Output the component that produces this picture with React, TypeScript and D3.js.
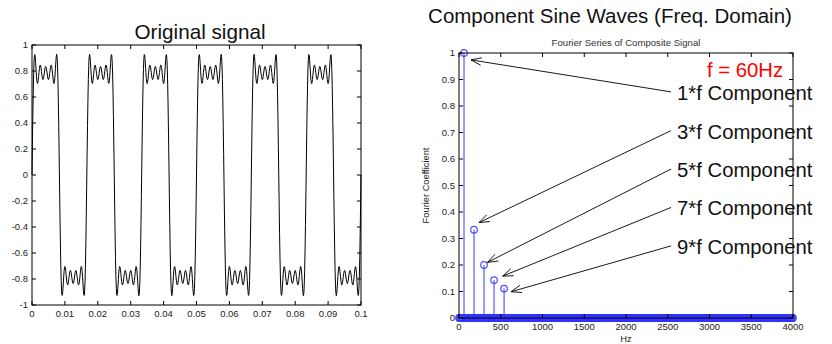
import React, { useRef, useEffect } from 'react';
import * as d3 from 'd3';

// composite signal parameters (square wave built from odd harmonics)
const baseFreq = 60;
const sampleRate = 8000;
const duration = 0.1;
const harmonics = [1, 3, 5, 7, 9];
const coefficients = [1, 0.333, 0.2, 0.143, 0.111];

// tick labels
const signalXTicks = [0, 0.01, 0.02, 0.03, 0.04, 0.05, 0.06, 0.07, 0.08, 0.09, 0.1];
const signalYTicks = [-1, -0.8, -0.6, -0.4, -0.2, 0, 0.2, 0.4, 0.6, 0.8, 1];
const freqXTicks = [0, 500, 1000, 1500, 2000, 2500, 3000, 3500, 4000];
const freqYTicks = [0, 0.1, 0.2, 0.3, 0.4, 0.5, 0.6, 0.7, 0.8, 0.9, 1];

// annotations (text anchor + arrow target in data units)
const annoLabels = ['1*f Component', '3*f Component', '5*f Component', '7*f Component', '9*f Component'];
const annoTextY = [0.823, 0.677, 0.532, 0.387, 0.242];
const annoTargetHz = [144, 240, 341, 523, 623];
const annoTargetY = [0.974, 0.36, 0.21, 0.158, 0.099];

const FONT = '"Liberation Sans", Arial, Helvetica, sans-serif';

function App() {
  const svgRef = useRef<SVGSVGElement>(null);

  useEffect(() => {
    const width = 832;
    const height = 344;
    const svg = d3.select(svgRef.current);
    svg.selectAll('*').remove();
    svg.attr('width', width).attr('height', height)
      .attr('viewBox', [0, 0, width, height])
      .style('font-family', FONT);

    svg.append('rect').attr('width', width).attr('height', height).attr('fill', '#fff');

    // ---------- time domain ----------
    const n = Math.round(duration * sampleRate);
    const signal = d3.range(n + 1).map(i => {
      const t = i / sampleRate;
      const v = d3.sum(harmonics, (h, k) => coefficients[k] * Math.sin(2 * Math.PI * h * baseFreq * t));
      return { t, v };
    });

    const x1 = d3.scaleLinear().domain([0, 0.1]).range([32, 361]);
    const y1 = d3.scaleLinear().domain([-1, 1]).range([305, 45]);
    const tick = 4;

    const left = svg.append('g');
    left.append('path')
      .attr('fill', 'none')
      .attr('stroke', '#000')
      .attr('stroke-width', 1)
      .attr('d', d3.line<any>().x(d => x1(d.t)).y(d => y1(d.v))(signal));

    const drawFrame = (g, x, y) => {
      const [xa, xb] = x.range();
      const [yb, ya] = y.range();
      g.append('rect').attr('x', xa).attr('y', ya).attr('width', xb - xa).attr('height', yb - ya)
        .attr('fill', 'none').attr('stroke', '#000').attr('stroke-width', 1);
    };
    const drawTicks = (g, x, y, xt, yt, xfmt, yfmt, xLabelY) => {
      const [xa, xb] = x.range();
      const [yb, ya] = y.range();
      xt.forEach(v => {
        g.append('line').attr('x1', x(v)).attr('x2', x(v)).attr('y1', yb).attr('y2', yb - tick).attr('stroke', '#000');
        g.append('line').attr('x1', x(v)).attr('x2', x(v)).attr('y1', ya).attr('y2', ya + tick).attr('stroke', '#000');
        g.append('text').attr('x', x(v)).attr('y', xLabelY).attr('text-anchor', 'middle')
          .attr('font-size', 9.5).attr('fill', '#222').text(xfmt(v));
      });
      yt.forEach(v => {
        g.append('line').attr('x1', xa).attr('x2', xa + tick).attr('y1', y(v)).attr('y2', y(v)).attr('stroke', '#000');
        g.append('line').attr('x1', xb).attr('x2', xb - tick).attr('y1', y(v)).attr('y2', y(v)).attr('stroke', '#000');
        g.append('text').attr('x', xa - 4).attr('y', y(v) + 3.3).attr('text-anchor', 'end')
          .attr('font-size', 9.5).attr('fill', '#222').text(yfmt(v));
      });
    };
    const fmt = v => String(+v.toFixed(2));
    drawFrame(left, x1, y1);
    drawTicks(left, x1, y1, signalXTicks, signalYTicks, fmt, fmt, 317);

    left.append('text').attr('x', 200).attr('y', 39).attr('text-anchor', 'middle')
      .attr('font-size', 20.7).attr('fill', '#111').text('Original signal');

    // ---------- frequency domain ----------
    const x2 = d3.scaleLinear().domain([0, 4000]).range([459, 793]);
    const y2 = d3.scaleLinear().domain([0, 1]).range([318, 53]);
    const right = svg.append('g');

    const binHz = sampleRate / n;
    const bins = d3.range(0, sampleRate / 2 + binHz / 2, binHz).map(f => {
      const k = harmonics.findIndex(h => Math.abs(h * baseFreq - f) < binHz / 2);
      return { f, c: k >= 0 ? coefficients[k] : 0 };
    });
    const blue = '#3333ff';
    right.selectAll('line.stem').data(bins.filter(d => d.c > 0)).join('line')
      .attr('class', 'stem')
      .attr('x1', d => x2(d.f)).attr('x2', d => x2(d.f))
      .attr('y1', y2(0)).attr('y2', d => y2(d.c))
      .attr('stroke', blue).attr('stroke-opacity', 0.75).attr('stroke-width', 1.3);
    right.selectAll('circle.mk').data(bins).join('circle')
      .attr('class', 'mk')
      .attr('cx', d => x2(d.f)).attr('cy', d => y2(d.c)).attr('r', 3.3)
      .attr('fill', 'none').attr('stroke', blue).attr('stroke-opacity', 0.85).attr('stroke-width', 1.2);

    drawFrame(right, x2, y2);
    drawTicks(right, x2, y2, freqXTicks, freqYTicks, v => String(v), fmt, 330);

    right.append('text').attr('x', 626).attr('y', 342).attr('text-anchor', 'middle')
      .attr('font-size', 9.3).attr('fill', '#222').text('Hz');
    right.append('text').attr('transform', `translate(429,${(53 + 318) / 2}) rotate(-90)`)
      .attr('text-anchor', 'middle').attr('font-size', 9.3).attr('fill', '#222').text('Fourier Coefficient');
    right.append('text').attr('x', 626).attr('y', 45.5).attr('text-anchor', 'middle')
      .attr('font-size', 9.6).attr('fill', '#333').text('Fourier Series of Composite Signal');
    right.append('text').attr('x', 610).attr('y', 23).attr('text-anchor', 'middle')
      .attr('font-size', 20.5).attr('fill', '#111').text('Component Sine Waves (Freq. Domain)');

    right.append('text').attr('x', x2(2970)).attr('y', y2(0.909))
      .attr('font-size', 20.3).attr('fill', '#ff0000').text('f = 60Hz');

    annoLabels.forEach((label, i) => {
      const tx = x2(2540);
      const ty = y2(annoTextY[i]);
      right.append('text').attr('x', tx + 6).attr('y', ty).attr('font-size', 20.3)
        .attr('fill', '#111').text(label);
      const sx = tx, sy = ty - 8;
      const ex = x2(annoTargetHz[i]), ey = y2(annoTargetY[i]);
      const ang = Math.atan2(sy - ey, sx - ex);
      const len = 11, spread = 0.35;
      right.append('line').attr('x1', sx).attr('y1', sy).attr('x2', ex).attr('y2', ey)
        .attr('stroke', '#000').attr('stroke-width', 0.9);
      right.append('path')
        .attr('d', `M${ex + len * Math.cos(ang + spread)},${ey + len * Math.sin(ang + spread)}L${ex},${ey}L${ex + len * Math.cos(ang - spread)},${ey + len * Math.sin(ang - spread)}`)
        .attr('fill', 'none').attr('stroke', '#000').attr('stroke-width', 0.9);
    });
  }, []);

  return (
    <div style={{ position: 'absolute', left: 0, top: 0 }}>
      <svg ref={svgRef}></svg>
    </div>
  );
}

export default App;
